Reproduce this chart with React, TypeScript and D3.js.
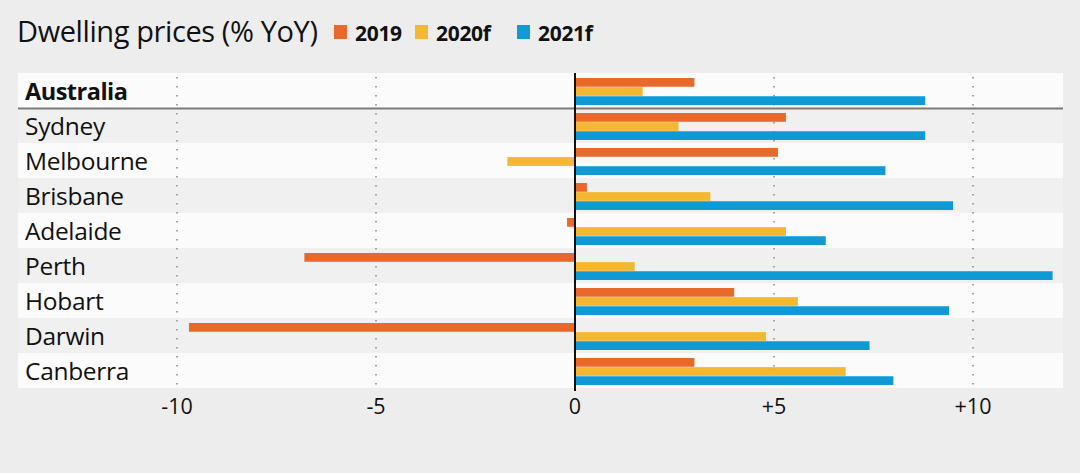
import React from "react";
import * as d3 from "d3";

const cities = ["Australia", "Sydney", "Melbourne", "Brisbane", "Adelaide", "Perth", "Hobart", "Darwin", "Canberra"];
const seriesNames = ["2019", "2020f", "2021f"];
const values2019 = [3.0, 5.3, 5.1, 0.3, -0.2, -6.8, 4.0, -9.7, 3.0];
const values2020 = [1.7, 2.6, -1.7, 3.4, 5.3, 1.5, 5.6, 4.8, 6.8];
const values2021 = [8.8, 8.8, 7.8, 9.5, 6.3, 12.0, 9.4, 7.4, 8.0];
const tickValues = [-10, -5, 0, 5, 10];
const tickLabels = ["-10", "-5", "0", "+5", "+10"];
const title = "Dwelling prices (% YoY)";

const colors = ["#e8692b", "#f4b731", "#0f9ad6"];

const W = 1080;
const H = 473;
const FONT = "'Open Sans', 'Noto Sans', sans-serif";

export default function App() {
  const series = [values2019, values2020, values2021];
  const x = d3.scaleLinear().domain([-10, 10]).range([177, 973]);
  const y = d3.scaleBand<string>().domain(cities).range([73, 388]).padding(0);
  const inner = d3
    .scaleBand<string>()
    .domain(seriesNames)
    .range([5, 32])
    .paddingInner(0.04);

  const rowLeft = 18;
  const rowRight = 1063;
  const top = 73;
  const bottom = 389;

  const legendX = [334, 415, 517];

  return (
    <svg
      width={W}
      height={H}
      style={{ position: "fixed", left: 0, top: 0, display: "block", background: "#ededed" }}
      fontFamily={FONT}
    >
      <rect x={0} y={0} width={W} height={H} fill="#ededed" />
      {/* title */}
      <text x={17} y={42} fontSize={29} fill="#111" letterSpacing={-0.4}>
        {title}
      </text>
      {/* legend */}
      {seriesNames.map((s, i) => (
        <g key={s}>
          <rect x={legendX[i]} y={25} width={13} height={14} fill={colors[i]} />
          <text x={legendX[i] + 21} y={41} fontSize={21} fontWeight={700} fill="#111" letterSpacing={-0.3}>
            {s}
          </text>
        </g>
      ))}
      {/* row bands */}
      {cities.map((c, i) => (
        <rect
          key={c}
          x={rowLeft}
          y={y(c)}
          width={rowRight - rowLeft}
          height={y.bandwidth()}
          fill={i % 2 === 0 ? "#fbfbfb" : "#f0f0f0"}
        />
      ))}
      {/* gridlines */}
      {tickValues
        .filter((t) => t !== 0)
        .map((t) => (
          <line
            key={t}
            x1={x(t)}
            x2={x(t)}
            y1={top + 4}
            y2={bottom}
            stroke="#a3a3a3"
            strokeWidth={2}
            strokeDasharray="1.6 7.4"
          />
        ))}
      {/* divider under Australia */}
      <line
        x1={rowLeft}
        x2={rowRight}
        y1={(y(cities[1]) as number) + 0.5}
        y2={(y(cities[1]) as number) + 0.5}
        stroke="#7a7a7a"
        strokeWidth={2}
      />
      {/* bars */}
      {cities.map((c, i) => (
        <g key={c}>
          {series.map((vals, j) => {
            const v = vals[i];
            const x0 = x(Math.min(0, v));
            const x1 = x(Math.max(0, v));
            return (
              <rect
                key={j}
                x={x0}
                y={(y(c) as number) + (inner(seriesNames[j]) as number)}
                width={x1 - x0}
                height={inner.bandwidth()}
                fill={colors[j]}
              />
            );
          })}
        </g>
      ))}
      {/* zero line */}
      <line x1={x(0)} x2={x(0)} y1={top} y2={bottom + 2} stroke="#111" strokeWidth={2} />
      {/* category labels */}
      {cities.map((c, i) => (
        <text
          key={c}
          x={25}
          y={(y(c) as number) + y.bandwidth() / 2 + 9.5}
          fontSize={i === 0 ? 23.5 : 24.5}
          fontWeight={i === 0 ? 700 : 400}
          fill="#111"
          letterSpacing={i === 0 ? -0.5 : -0.3}
        >
          {c}
        </text>
      ))}
      {/* axis ticks */}
      {tickValues.map((t, i) => (
        <text key={t} x={x(t)} y={414} fontSize={21.5} textAnchor="middle" fill="#111">
          {tickLabels[i]}
        </text>
      ))}
    </svg>
  );
}
